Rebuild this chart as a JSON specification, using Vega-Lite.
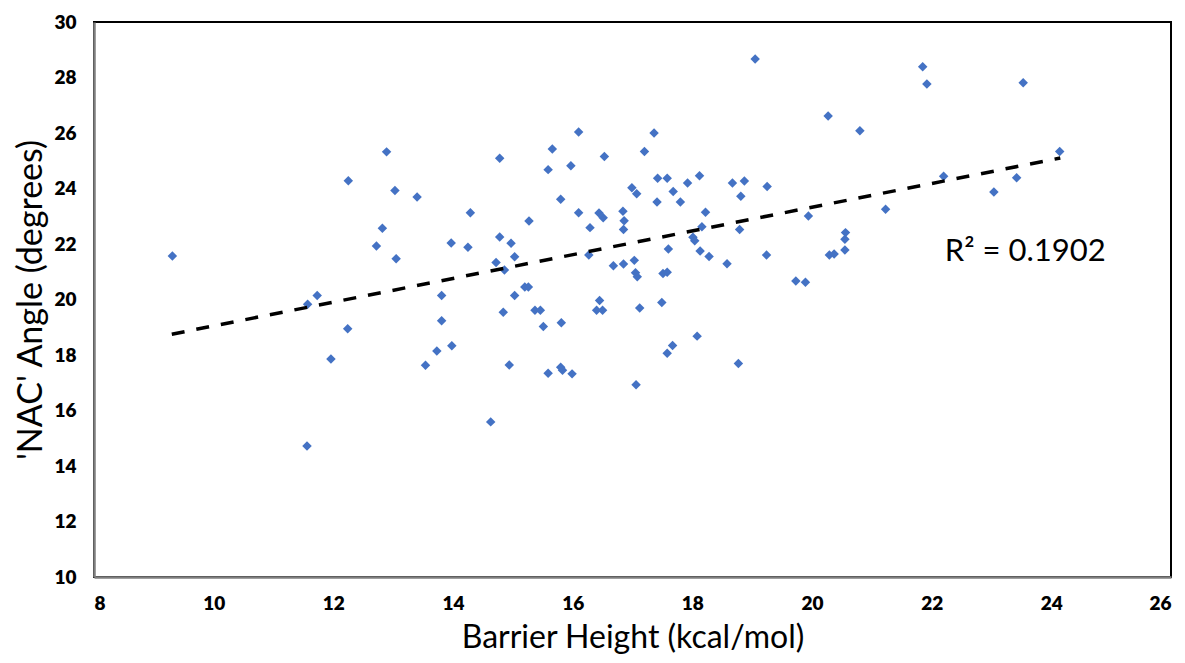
{
  "$schema": "https://vega.github.io/schema/vega-lite/v6.json",
  "width": 1077,
  "height": 555,
  "autosize": {"type": "none"},
  "padding": {"left": 94, "top": 22, "right": 14, "bottom": 86},
  "background": "white",
  "config": {
    "view": {"stroke": "#000000", "strokeWidth": 2},
    "axis": {"grid": false, "ticks": false, "domain": true, "domainColor": "#7f7f7f", "domainWidth": 2.5,
      "labelFont": "Lato", "labelFontWeight": 800, "labelFontSize": 19, "labelColor": "#000000",
      "titleFont": "Lato", "titleFontWeight": "normal", "titleColor": "#000000"}
  },
  "datasets": {
    "points": [
      {"bh": 9.31, "nac": 21.57}, {"bh": 11.56, "nac": 14.72}, {"bh": 11.57, "nac": 19.83}, {"bh": 11.73, "nac": 20.14},
      {"bh": 11.96, "nac": 17.86}, {"bh": 12.24, "nac": 18.95}, {"bh": 12.25, "nac": 24.28}, {"bh": 12.72, "nac": 21.93},
      {"bh": 12.82, "nac": 22.57}, {"bh": 12.89, "nac": 25.32}, {"bh": 13.03, "nac": 23.93}, {"bh": 13.05, "nac": 21.47},
      {"bh": 13.40, "nac": 23.69}, {"bh": 13.54, "nac": 17.63}, {"bh": 13.73, "nac": 18.14}, {"bh": 13.81, "nac": 20.14},
      {"bh": 13.81, "nac": 19.23}, {"bh": 13.97, "nac": 22.04}, {"bh": 13.98, "nac": 18.33}, {"bh": 14.25, "nac": 21.88},
      {"bh": 14.29, "nac": 23.13}, {"bh": 14.63, "nac": 15.59}, {"bh": 14.72, "nac": 21.33}, {"bh": 14.78, "nac": 25.09},
      {"bh": 14.78, "nac": 22.25}, {"bh": 14.84, "nac": 19.54}, {"bh": 14.86, "nac": 21.06}, {"bh": 14.94, "nac": 17.64},
      {"bh": 14.97, "nac": 22.03}, {"bh": 15.03, "nac": 21.54}, {"bh": 15.03, "nac": 20.14}, {"bh": 15.20, "nac": 20.45},
      {"bh": 15.26, "nac": 20.45}, {"bh": 15.27, "nac": 22.83}, {"bh": 15.37, "nac": 19.61}, {"bh": 15.46, "nac": 19.61},
      {"bh": 15.51, "nac": 19.03}, {"bh": 15.59, "nac": 24.68}, {"bh": 15.59, "nac": 17.34}, {"bh": 15.66, "nac": 25.42},
      {"bh": 15.80, "nac": 23.61}, {"bh": 15.80, "nac": 17.56}, {"bh": 15.81, "nac": 19.16}, {"bh": 15.83, "nac": 17.45},
      {"bh": 15.97, "nac": 24.82}, {"bh": 15.99, "nac": 17.32}, {"bh": 16.10, "nac": 26.04}, {"bh": 16.10, "nac": 23.13},
      {"bh": 16.27, "nac": 21.60}, {"bh": 16.29, "nac": 22.59}, {"bh": 16.40, "nac": 19.61}, {"bh": 16.44, "nac": 23.12},
      {"bh": 16.45, "nac": 19.96}, {"bh": 16.50, "nac": 19.61}, {"bh": 16.51, "nac": 22.95}, {"bh": 16.53, "nac": 25.15},
      {"bh": 16.68, "nac": 21.22}, {"bh": 16.84, "nac": 23.18}, {"bh": 16.85, "nac": 21.28}, {"bh": 16.85, "nac": 22.52},
      {"bh": 16.86, "nac": 22.84}, {"bh": 16.99, "nac": 24.03}, {"bh": 17.03, "nac": 21.41}, {"bh": 17.05, "nac": 20.96},
      {"bh": 17.06, "nac": 16.93}, {"bh": 17.07, "nac": 23.81}, {"bh": 17.08, "nac": 20.82}, {"bh": 17.12, "nac": 19.69},
      {"bh": 17.20, "nac": 25.33}, {"bh": 17.36, "nac": 26.00}, {"bh": 17.41, "nac": 23.51}, {"bh": 17.42, "nac": 24.37},
      {"bh": 17.49, "nac": 19.89}, {"bh": 17.51, "nac": 20.94}, {"bh": 17.58, "nac": 24.37}, {"bh": 17.58, "nac": 20.98},
      {"bh": 17.58, "nac": 18.06}, {"bh": 17.60, "nac": 21.82}, {"bh": 17.67, "nac": 18.34}, {"bh": 17.68, "nac": 23.89},
      {"bh": 17.80, "nac": 23.51}, {"bh": 17.92, "nac": 24.20}, {"bh": 18.01, "nac": 22.24}, {"bh": 18.04, "nac": 22.12},
      {"bh": 18.08, "nac": 18.68}, {"bh": 18.12, "nac": 24.46}, {"bh": 18.13, "nac": 21.75}, {"bh": 18.16, "nac": 22.62},
      {"bh": 18.22, "nac": 23.14}, {"bh": 18.28, "nac": 21.55}, {"bh": 18.58, "nac": 21.29}, {"bh": 18.67, "nac": 24.20},
      {"bh": 18.77, "nac": 17.69}, {"bh": 18.79, "nac": 22.52}, {"bh": 18.81, "nac": 23.72}, {"bh": 18.87, "nac": 24.27},
      {"bh": 19.05, "nac": 28.67}, {"bh": 19.24, "nac": 21.60}, {"bh": 19.25, "nac": 24.07}, {"bh": 19.73, "nac": 20.67},
      {"bh": 19.89, "nac": 20.62}, {"bh": 19.94, "nac": 23.01}, {"bh": 20.27, "nac": 26.61}, {"bh": 20.29, "nac": 21.60},
      {"bh": 20.37, "nac": 21.64}, {"bh": 20.55, "nac": 21.78}, {"bh": 20.55, "nac": 22.17}, {"bh": 20.56, "nac": 22.41},
      {"bh": 20.80, "nac": 26.08}, {"bh": 21.23, "nac": 23.25}, {"bh": 21.85, "nac": 28.39}, {"bh": 21.92, "nac": 27.77},
      {"bh": 22.20, "nac": 24.44}, {"bh": 23.04, "nac": 23.87}, {"bh": 23.42, "nac": 24.39}, {"bh": 23.53, "nac": 27.81},
      {"bh": 24.14, "nac": 25.33}
    ],
    "trend": [
      {"bh": 9.3, "nac": 18.75},
      {"bh": 24.15, "nac": 25.1}
    ],
    "label": [
      {"bh": 22.22, "nac": 21.7, "text": "R² = 0.1902"}
    ]
  },
  "layer": [
    {
      "data": {"name": "points"},
      "mark": {"type": "point", "shape": "diamond", "filled": true, "color": "#4472C4", "size": 90, "opacity": 1},
      "encoding": {
        "x": {"field": "bh", "type": "quantitative", "scale": {"domain": [8, 26], "nice": false, "zero": false},
          "axis": {"values": [8, 10, 12, 14, 16, 18, 20, 22, 24, 26], "format": "d", "title": "Barrier Height (kcal/mol)", "titleFontSize": 32, "titlePadding": 9, "labelPadding": 17}},
        "y": {"field": "nac", "type": "quantitative", "scale": {"domain": [10, 30], "nice": false, "zero": false},
          "axis": {"values": [10, 12, 14, 16, 18, 20, 22, 24, 26, 28, 30], "format": "d", "title": "'NAC' Angle (degrees)", "titleFontSize": 34, "titlePadding": 5, "labelPadding": 18}}
      }
    },
    {
      "data": {"name": "trend"},
      "mark": {"type": "line", "color": "#000000", "strokeWidth": 3.5, "strokeDash": [13, 12]},
      "encoding": {
        "x": {"field": "bh", "type": "quantitative"},
        "y": {"field": "nac", "type": "quantitative"}
      }
    },
    {
      "data": {"name": "label"},
      "mark": {"type": "text", "align": "left", "baseline": "middle", "font": "Lato", "fontSize": 31, "color": "#000000"},
      "encoding": {
        "x": {"field": "bh", "type": "quantitative"},
        "y": {"field": "nac", "type": "quantitative"},
        "text": {"field": "text"}
      }
    }
  ]
}
